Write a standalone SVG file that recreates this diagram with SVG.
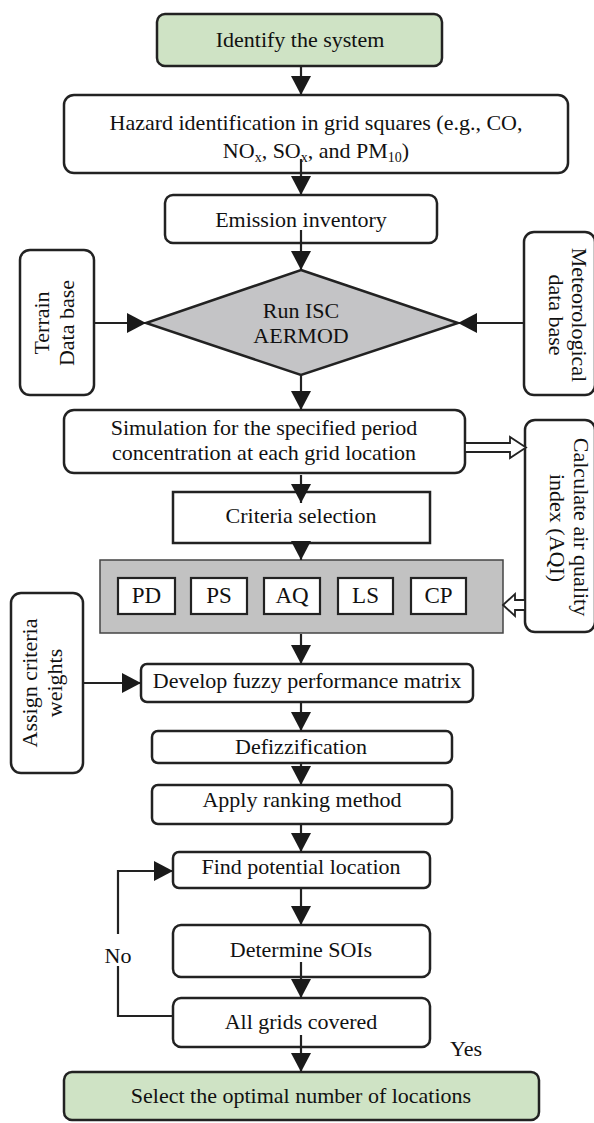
<svg xmlns="http://www.w3.org/2000/svg" width="594" height="1123" viewBox="0 0 594 1123">
<style>
text{font-family:"Liberation Serif","Times New Roman",serif;font-size:22px;fill:#111;text-anchor:middle}
.box{fill:#fff;stroke:#222;stroke-width:2.5}
.green{fill:#cfe3c5;stroke:#222;stroke-width:2.5}
.gray{fill:#c4c4c6;stroke:#222;stroke-width:2.5}
.graybox{fill:#c2c2c2;stroke:#444;stroke-width:1.5}
.small{fill:#fff;stroke:#222;stroke-width:2.2}
.big{font-size:23px}
.sub{font-size:14px}
.con{fill:none;stroke:#222;stroke-width:2.2}
.hollow{fill:#fff;stroke:#222;stroke-width:1.8}
</style>
<defs>
<marker id="arr" markerUnits="userSpaceOnUse" markerWidth="20" markerHeight="20" refX="19" refY="10" orient="auto">
<path d="M0,0 L19,10 L0,20 z" fill="#1a1a1a"/>
</marker>
</defs>
<rect width="594" height="1123" fill="#fff"/>

<g id="n-identify">
<rect class="green" x="157" y="14" width="285" height="52" rx="8"/>
<text x="300" y="47">Identify the system</text>
</g>
<g id="n-hazard">
<rect class="box" x="64" y="95" width="504" height="78" rx="10"/>
<text x="316" y="130">Hazard identification in grid squares (e.g., CO,</text>
<text x="316" y="158">NO<tspan class="sub" dy="4">x</tspan><tspan dy="-4">, SO</tspan><tspan class="sub" dy="4">x</tspan><tspan dy="-4">, and PM</tspan><tspan class="sub" dy="4">10</tspan><tspan dy="-4">)</tspan></text>
</g>
<g id="n-emission">
<rect class="box" x="165" y="195" width="272" height="48" rx="8"/>
<text x="301" y="227">Emission inventory</text>
</g>
<g id="n-run">
<polygon class="gray" points="301,270 458,323 301,375 146,323"/>
<text x="301" y="318">Run ISC</text>
<text x="301" y="343">AERMOD</text>
</g>
<g id="n-terrain">
<rect class="box" x="20" y="250" width="74" height="145" rx="10"/>
<text transform="translate(49,323) rotate(-90)">Terrain</text>
<text transform="translate(74,323) rotate(-90)">Data base</text>
</g>
<g id="n-met">
<rect class="box" x="524" y="232" width="71" height="163" rx="10"/>
<text transform="translate(572,315) rotate(90)">Meteorological</text>
<text transform="translate(549,315) rotate(90)">data base</text>
</g>
<g id="n-sim">
<rect class="box" x="64" y="410" width="401" height="63" rx="10"/>
<text x="264" y="435">Simulation for the specified period</text>
<text x="264" y="460">concentration at each grid location</text>
</g>
<g id="n-aqi">
<rect class="box" x="525" y="420" width="70" height="212" rx="10"/>
<text transform="translate(574,527) rotate(90)">Calculate air quality</text>
<text transform="translate(550,528) rotate(90)">index (AQI)</text>
</g>
<g id="n-criteria">
<rect class="box" x="173" y="492" width="257" height="51"/>
<text x="301" y="523">Criteria selection</text>
</g>
<g id="n-criteria-set">
<rect class="graybox" x="100" y="560" width="403" height="73"/>
<g id="n-pd"><rect class="small" x="118" y="578" width="57" height="36"/><text class="big" x="146.5" y="603">PD</text></g>
<g id="n-ps"><rect class="small" x="191" y="578" width="56" height="36"/><text class="big" x="219" y="603">PS</text></g>
<g id="n-aq"><rect class="small" x="264" y="578" width="56" height="36"/><text class="big" x="292" y="603">AQ</text></g>
<g id="n-ls"><rect class="small" x="338" y="578" width="55" height="36"/><text class="big" x="365.5" y="603">LS</text></g>
<g id="n-cp"><rect class="small" x="411" y="578" width="55" height="36"/><text class="big" x="438.5" y="603">CP</text></g>
</g>
<g id="n-assign">
<rect class="box" x="11" y="593" width="72" height="180" rx="10"/>
<text transform="translate(37,683) rotate(-90)">Assign criteria</text>
<text transform="translate(62,683) rotate(-90)">weights</text>
</g>
<g id="n-develop">
<rect class="box" x="141" y="664" width="332" height="38" rx="6"/>
<text x="307" y="688">Develop fuzzy performance matrix</text>
</g>
<g id="n-defuzz">
<rect class="box" x="152" y="731" width="300" height="32" rx="6"/>
<text x="301" y="754">Defizzification</text>
</g>
<g id="n-apply">
<rect class="box" x="152" y="785" width="300" height="39" rx="6"/>
<text x="302" y="807">Apply ranking method</text>
</g>
<g id="n-find">
<rect class="box" x="173" y="852" width="257" height="36" rx="6"/>
<text x="301" y="874">Find potential location</text>
</g>
<g id="n-determine">
<rect class="box" x="173" y="925" width="257" height="52" rx="8"/>
<text x="301" y="957">Determine SOIs</text>
</g>
<g id="n-allgrids">
<rect class="box" x="173" y="998" width="257" height="49" rx="8"/>
<text x="301" y="1029">All grids covered</text>
</g>
<g id="n-select">
<rect class="green" x="64" y="1072" width="475" height="48" rx="8"/>
<text x="301" y="1103">Select the optimal number of locations</text>
</g>

<g id="connectors">
<line class="con" x1="301" y1="66" x2="301" y2="95" marker-end="url(#arr)"/>
<line class="con" x1="301" y1="159" x2="301" y2="195" marker-end="url(#arr)"/>
<line class="con" x1="301" y1="230" x2="301" y2="270" marker-end="url(#arr)"/>
<line class="con" x1="94" y1="323" x2="146" y2="323" marker-end="url(#arr)"/>
<line class="con" x1="524" y1="323" x2="458" y2="323" marker-end="url(#arr)"/>
<line class="con" x1="301" y1="375" x2="301" y2="410" marker-end="url(#arr)"/>
<polygon class="hollow" points="465,443 510,443 510,437 526,447.5 510,458 510,452 465,452"/>
<line class="con" x1="301" y1="475" x2="301" y2="503" marker-end="url(#arr)"/>
<line class="con" x1="301" y1="543" x2="301" y2="560" marker-end="url(#arr)"/>
<polygon class="hollow" points="525,600 515,600 515,594 503,605 515,616 515,610 525,610"/>
<line class="con" x1="301" y1="634" x2="301" y2="664" marker-end="url(#arr)"/>
<line class="con" x1="83" y1="683" x2="141" y2="683" marker-end="url(#arr)"/>
<line class="con" x1="301" y1="702" x2="301" y2="731" marker-end="url(#arr)"/>
<line class="con" x1="301" y1="763" x2="301" y2="785" marker-end="url(#arr)"/>
<line class="con" x1="301" y1="824" x2="301" y2="852" marker-end="url(#arr)"/>
<line class="con" x1="301" y1="888" x2="301" y2="925" marker-end="url(#arr)"/>
<line class="con" x1="301" y1="962" x2="301" y2="998" marker-end="url(#arr)"/>
<line class="con" x1="301" y1="1035" x2="301" y2="1072" marker-end="url(#arr)"/>
<path class="con" d="M173,1016 H118 V966"/>
<path class="con" d="M118,934 V871 H173" marker-end="url(#arr)"/>
<text x="118" y="963">No</text>
<text x="466" y="1056">Yes</text>
</g>
</svg>
